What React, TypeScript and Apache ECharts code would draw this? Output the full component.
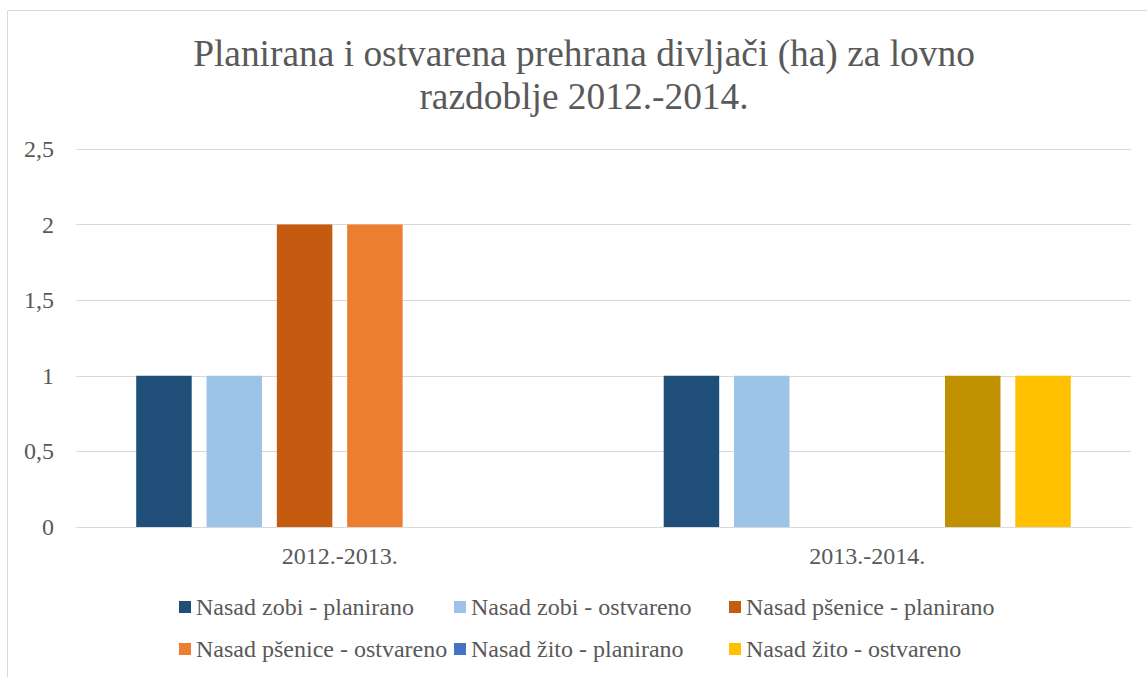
import React, { useEffect, useRef } from "react";
import * as echarts from "echarts";

const categories = ["2012.-2013.", "2013.-2014."];
const seriesNames = [
  "Nasad zobi - planirano",
  "Nasad zobi - ostvareno",
  "Nasad pšenice - planirano",
  "Nasad pšenice - ostvareno",
  "Nasad žito - planirano",
  "Nasad žito - ostvareno",
];
const zobiPlanirano = [1, 1];
const zobiOstvareno = [1, 1];
const psenicePlanirano = [2, 0];
const pseniceOstvareno = [2, 0];
const zitoPlanirano = [0, 1];
const zitoOstvareno = [0, 1];
const seriesValues = [
  zobiPlanirano,
  zobiOstvareno,
  psenicePlanirano,
  pseniceOstvareno,
  zitoPlanirano,
  zitoOstvareno,
];
const seriesColors = ["#1F4E79", "#9DC3E6", "#C55A11", "#ED7D31", "#4472C4", "#FFC000"];
// per-point colour overrides: [seriesIndex, categoryIndex, colour]
const pointColors: [number, number, string][] = [[4, 1, "#BF9000"]];
const yTicks = [0, 0.5, 1, 1.5, 2, 2.5];

const FONT = "Liberation Serif";
const TXT = "#595959";

export default function App() {
  const ref = useRef<HTMLDivElement>(null);
  useEffect(() => {
    if (!ref.current) return;
    const chart = echarts.init(ref.current, undefined, { renderer: "svg" });
    const series = seriesValues.map((vals, si) => ({
      name: seriesNames[si],
      type: "bar",
      barWidth: 55.5,
      barGap: "26.7%",
      barCategoryGap: "22.8%",
      itemStyle: { color: seriesColors[si] },
      data: vals.map((v, ci) => {
        const o = pointColors.find((p) => p[0] === si && p[1] === ci);
        return o ? { value: v, itemStyle: { color: o[2] } } : v;
      }),
    }));
    chart.setOption({
      animation: false,
      textStyle: { fontFamily: FONT },
      title: {
        text: "Planirana i ostvarena prehrana divljači (ha) za lovno\nrazdoblje 2012.-2014.",
        left: 579,
        top: 27,
        textAlign: "center",
        textStyle: {
          fontFamily: FONT,
          fontSize: 37.4,
          fontWeight: "normal",
          color: TXT,
          lineHeight: 43,
        },
      },
      graphic: [
        {
          type: "rect",
          shape: { x: 7.5, y: 10.5, width: 1200, height: 700 },
          style: { fill: "none", stroke: "#D9D9D9", lineWidth: 1 },
          silent: true,
        },
      ],
      legend: {
        data: seriesNames,
        left: 179,
        top: 586,
        width: 840,
        padding: 0,
        itemWidth: 12,
        itemHeight: 12,
        itemGap: 0,
        icon: "rect",
        textStyle: {
          fontFamily: FONT,
          fontSize: 24,
          color: TXT,
          width: 258,
          lineHeight: 42,
          overflow: "none",
        },
      },
      grid: { left: 76, right: 16, top: 149, bottom: 150, containLabel: false },
      xAxis: {
        type: "category",
        data: categories,
        axisTick: { show: false },
        axisLine: { lineStyle: { color: "#D9D9D9" } },
        axisLabel: { fontFamily: FONT, fontSize: 24, color: TXT, margin: 17 },
      },
      yAxis: {
        type: "value",
        min: yTicks[0],
        max: yTicks[yTicks.length - 1],
        interval: 0.5,
        axisLine: { show: false },
        axisTick: { show: false },
        splitLine: { lineStyle: { color: "#D9D9D9" } },
        axisLabel: {
          fontFamily: FONT,
          fontSize: 24,
          color: TXT,
          margin: 22,
          formatter: (v: number) => String(v).replace(".", ","),
        },
      },
      series,
    });
    return () => chart.dispose();
  }, []);
  return (
    <div
      ref={ref}
      style={{ position: "absolute", left: 0, top: 0, width: 1147, height: 677 }}
    />
  );
}
